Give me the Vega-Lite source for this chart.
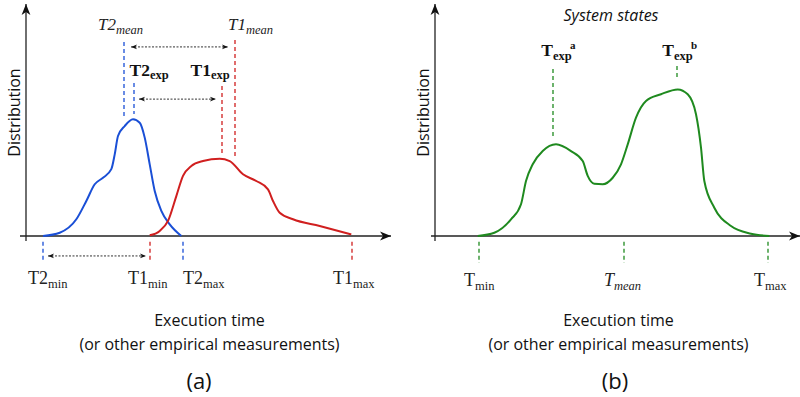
{
  "$schema": "https://vega.github.io/schema/vega-lite/v6.json",
  "padding": {"left": 6, "top": 3, "right": 0, "bottom": 0},
  "spacing": 19,
  "config": {"view": {"stroke": null}},
  "datasets": {
    "axes": [
      {"axis": "x", "t": -1.5, "t2": 91.25, "d": 0, "d2": 0},
      {"axis": "y", "t": 0, "t2": 0, "d": -2.2, "d2": 100}
    ],
    "axesB": [
      {"axis": "x", "t": -1, "t2": 91.25, "d": 0, "d2": 0},
      {"axis": "y", "t": 0, "t2": 0, "d": -2.2, "d2": 100}
    ],
    "curvesA": [
      {"series": "T2", "t": 4.25, "d": 0},
      {"series": "T2", "t": 8.43, "d": 1.4},
      {"series": "T2", "t": 12.58, "d": 7.2},
      {"series": "T2", "t": 15.08, "d": 15.1},
      {"series": "T2", "t": 17.18, "d": 22.3},
      {"series": "T2", "t": 19.25, "d": 25.1},
      {"series": "T2", "t": 21.33, "d": 28.8},
      {"series": "T2", "t": 22.18, "d": 35.2},
      {"series": "T2", "t": 23, "d": 43.1},
      {"series": "T2", "t": 24.68, "d": 47.4},
      {"series": "T2", "t": 26.75, "d": 50.3},
      {"series": "T2", "t": 28.43, "d": 48.8},
      {"series": "T2", "t": 29.68, "d": 42.4},
      {"series": "T2", "t": 30.93, "d": 30.9},
      {"series": "T2", "t": 32.18, "d": 19.4},
      {"series": "T2", "t": 33.83, "d": 10.8},
      {"series": "T2", "t": 35.93, "d": 5},
      {"series": "T2", "t": 38.83, "d": 0},
      {"series": "T1", "t": 30.93, "d": 0.3},
      {"series": "T1", "t": 33.43, "d": 2.2},
      {"series": "T1", "t": 35.5, "d": 6.5},
      {"series": "T1", "t": 37.58, "d": 17.2},
      {"series": "T1", "t": 39.25, "d": 25.9},
      {"series": "T1", "t": 41.33, "d": 30.2},
      {"series": "T1", "t": 44.25, "d": 32.3},
      {"series": "T1", "t": 48.43, "d": 33.3},
      {"series": "T1", "t": 50.93, "d": 32.3},
      {"series": "T1", "t": 54.25, "d": 26.6},
      {"series": "T1", "t": 57.58, "d": 23.7},
      {"series": "T1", "t": 60.5, "d": 20.1},
      {"series": "T1", "t": 61.75, "d": 15.1},
      {"series": "T1", "t": 63.43, "d": 10},
      {"series": "T1", "t": 66.75, "d": 7.2},
      {"series": "T1", "t": 73.43, "d": 4.3},
      {"series": "T1", "t": 81.33, "d": 0.7}
    ],
    "curveB": [
      {"series": "T", "t": 10.68, "d": 0},
      {"series": "T", "t": 14.83, "d": 1.4},
      {"series": "T", "t": 19, "d": 7.2},
      {"series": "T", "t": 21.5, "d": 13.7},
      {"series": "T", "t": 22.75, "d": 23.7},
      {"series": "T", "t": 24.43, "d": 30.9},
      {"series": "T", "t": 26.93, "d": 36.6},
      {"series": "T", "t": 30.25, "d": 39.5},
      {"series": "T", "t": 34, "d": 36.6},
      {"series": "T", "t": 36.93, "d": 32.3},
      {"series": "T", "t": 38.18, "d": 25.9},
      {"series": "T", "t": 39.83, "d": 22.5},
      {"series": "T", "t": 41.93, "d": 22.3},
      {"series": "T", "t": 44.43, "d": 25.1},
      {"series": "T", "t": 46.5, "d": 30.9},
      {"series": "T", "t": 48.18, "d": 39.5},
      {"series": "T", "t": 50.25, "d": 51},
      {"series": "T", "t": 52.75, "d": 58.2},
      {"series": "T", "t": 56.5, "d": 61.1},
      {"series": "T", "t": 60.68, "d": 63.2},
      {"series": "T", "t": 63.18, "d": 61.1},
      {"series": "T", "t": 65.25, "d": 52.5},
      {"series": "T", "t": 66.5, "d": 38.1},
      {"series": "T", "t": 67.33, "d": 23.7},
      {"series": "T", "t": 69.83, "d": 12.2},
      {"series": "T", "t": 74, "d": 4.3},
      {"series": "T", "t": 79, "d": 1},
      {"series": "T", "t": 83.58, "d": 0}
    ],
    "markersA": [
      {"series": "T2", "stat": "mean", "t": 24.5, "d": 83.6, "d2": 51},
      {"series": "T1", "stat": "mean", "t": 52.25, "d": 84.5, "d2": 33.6},
      {"series": "T2", "stat": "exp", "t": 27, "d": 66, "d2": 52.6},
      {"series": "T1", "stat": "exp", "t": 49, "d": 64.7, "d2": 35.8},
      {"series": "T2", "stat": "min", "t": 4.25, "d": -2.5, "d2": -11.5},
      {"series": "T1", "stat": "min", "t": 31, "d": -2.5, "d2": -11.5},
      {"series": "T2", "stat": "max", "t": 39.25, "d": -2.5, "d2": -11.5},
      {"series": "T1", "stat": "max", "t": 81.5, "d": -2.5, "d2": -11.5}
    ],
    "markersB": [
      {"series": "T", "stat": "exp a", "t": 29.5, "d": 72, "d2": 42.2},
      {"series": "T", "stat": "exp b", "t": 60.5, "d": 73.3, "d2": 67.7},
      {"series": "T", "stat": "min", "t": 11, "d": -2.5, "d2": -11.6},
      {"series": "T", "stat": "mean", "t": 47.25, "d": -2.5, "d2": -11.6},
      {"series": "T", "stat": "max", "t": 83.25, "d": -2.5, "d2": -11.6}
    ],
    "spansA": [
      {"between": "means", "t": 26.25, "t2": 50.5, "d": 81.5},
      {"between": "exp", "t": 28.25, "t2": 47.5, "d": 59},
      {"between": "min", "t": 5.5, "t2": 30, "d": -8.6}
    ],
    "labelsA": [
      {"stat": "min", "base": "T2", "sub": "min", "t": 5.5, "d": -20.9},
      {"stat": "min", "base": "T1", "sub": "min", "t": 30.5, "d": -20.9},
      {"stat": "max", "base": "T2", "sub": "max", "t": 44.25, "d": -20.9},
      {"stat": "max", "base": "T1", "sub": "max", "t": 81.75, "d": -20.9},
      {"stat": "mean", "base": "T2", "sub": "mean", "t": 22.5, "d": 88.6},
      {"stat": "mean", "base": "T1", "sub": "mean", "t": 55, "d": 88.6},
      {"stat": "exp", "base": "T2", "sub": "exp", "t": 31, "d": 69},
      {"stat": "exp", "base": "T1", "sub": "exp", "t": 46.25, "d": 69}
    ],
    "labelsB": [
      {"stat": "min", "base": "T", "sub": "min", "sup": "", "t": 10, "d": -21.4},
      {"stat": "mean", "base": "T", "sub": "mean", "sup": "", "t": 44.75, "d": -21.4},
      {"stat": "max", "base": "T", "sub": "max", "sup": "", "t": 82.5, "d": -21.4},
      {"stat": "exp", "base": "T", "sub": "exp", "sup": "a", "t": 29.5, "d": 77.6},
      {"stat": "exp", "base": "T", "sub": "exp", "sup": "b", "t": 59.75, "d": 77.6}
    ],
    "noteB": [
      {"note": "System states", "t": 44, "d": 92.6}
    ]
  },
  "hconcat": [
    {
      "width": 380,
      "height": 290,
      "title": {"text": "(a)", "orient": "bottom", "font": "Open Sans", "fontSize": 22, "fontWeight": "normal", "color": "#111", "offset": 20, "dx": -7},
      "encoding": {
        "x": {"field": "t", "type": "quantitative", "scale": {"domain": [-2.5, 92.5], "nice": false, "zero": false},
          "axis": {"title": ["Execution time", "(or other empirical measurements)"], "domain": false, "ticks": false, "labels": false, "grid": false,
            "titleFont": "Open Sans", "titleFontSize": 16, "titleFontWeight": "normal", "titleColor": "#111", "titleBaseline": "alphabetic", "titleX": 193, "titleY": 31, "titleLineHeight": 24}},
        "y": {"field": "d", "type": "quantitative", "scale": {"domain": [-25, 100], "nice": false, "zero": false},
          "axis": {"title": "Distribution", "domain": false, "ticks": false, "labels": false, "grid": false,
            "titleFont": "Open Sans", "titleFontSize": 16, "titleFontWeight": "normal", "titleColor": "#111", "titleBaseline": "alphabetic", "titleX": 3, "titleY": 108}}
      },
      "layer": [
        {"data": {"name": "axes"}, "mark": {"type": "rule", "color": "#222", "strokeWidth": 1.3},
          "encoding": {"x2": {"field": "t2"}, "y2": {"field": "d2"}}},
        {"data": {"name": "axes"}, "transform": [{"filter": "datum.axis == 'x'"}],
          "mark": {"type": "point", "shape": "M-2,-0.8L0,0L-2,0.8L-1.45,0Z", "filled": true, "size": 121, "color": "#111", "opacity": 1, "strokeWidth": 0},
          "encoding": {"x": {"field": "t2", "type": "quantitative"}}},
        {"data": {"name": "axes"}, "transform": [{"filter": "datum.axis == 'y'"}],
          "mark": {"type": "point", "shape": "M-0.8,2L0,0L0.8,2L0,1.45Z", "filled": true, "size": 121, "color": "#111", "opacity": 1, "strokeWidth": 0},
          "encoding": {"y": {"field": "d2", "type": "quantitative"}}},
        {"data": {"name": "curvesA"}, "mark": {"type": "line", "interpolate": "monotone", "strokeWidth": 2},
          "encoding": {"color": {"field": "series", "type": "nominal", "scale": {"domain": ["T1", "T2", "T"], "range": ["#d01f1f", "#1a4fd6", "#1f8a1f"]}, "legend": null}}},
        {"data": {"name": "markersA"}, "mark": {"type": "rule", "strokeWidth": 1.3, "strokeDash": [4, 3]},
          "encoding": {"y2": {"field": "d2"}, "color": {"field": "series", "type": "nominal", "scale": {"domain": ["T1", "T2", "T"], "range": ["#d01f1f", "#1a4fd6", "#1f8a1f"]}, "legend": null}}},
        {"data": {"name": "spansA"}, "mark": {"type": "rule", "strokeWidth": 1, "strokeDash": [2, 1.5], "color": "#333"},
          "encoding": {"x2": {"field": "t2"}}},
        {"data": {"name": "spansA"},
          "mark": {"type": "point", "shape": "M2,-0.8L0,0L2,0.8L1.45,0Z", "filled": true, "size": 36, "color": "#111", "opacity": 1, "strokeWidth": 0}},
        {"data": {"name": "spansA"},
          "mark": {"type": "point", "shape": "M-2,-0.8L0,0L-2,0.8L-1.45,0Z", "filled": true, "size": 36, "color": "#111", "opacity": 1, "strokeWidth": 0},
          "encoding": {"x": {"field": "t2", "type": "quantitative"}}},
        {"data": {"name": "labelsA"}, "transform": [{"filter": "datum.stat == 'min' || datum.stat == 'max'"}],
          "mark": {"type": "text", "align": "right", "baseline": "alphabetic", "font": "Liberation Serif", "fontSize": 18, "color": "#222"},
          "encoding": {"text": {"field": "base"}}},
        {"data": {"name": "labelsA"}, "transform": [{"filter": "datum.stat == 'min' || datum.stat == 'max'"}],
          "mark": {"type": "text", "align": "left", "baseline": "alphabetic", "font": "Liberation Serif", "fontSize": 12.5, "color": "#222", "dy": 4},
          "encoding": {"text": {"field": "sub"}}},
        {"data": {"name": "labelsA"}, "transform": [{"filter": "datum.stat == 'mean'"}],
          "mark": {"type": "text", "align": "right", "baseline": "alphabetic", "font": "Liberation Serif", "fontStyle": "italic", "fontSize": 17, "color": "#222"},
          "encoding": {"text": {"field": "base"}}},
        {"data": {"name": "labelsA"}, "transform": [{"filter": "datum.stat == 'mean'"}],
          "mark": {"type": "text", "align": "left", "baseline": "alphabetic", "font": "Liberation Serif", "fontStyle": "italic", "fontSize": 12.5, "color": "#222", "dy": 4},
          "encoding": {"text": {"field": "sub"}}},
        {"data": {"name": "labelsA"}, "transform": [{"filter": "datum.stat == 'exp'"}],
          "mark": {"type": "text", "align": "right", "baseline": "alphabetic", "font": "Liberation Serif", "fontWeight": "bold", "fontSize": 17.5, "color": "#111"},
          "encoding": {"text": {"field": "base"}}},
        {"data": {"name": "labelsA"}, "transform": [{"filter": "datum.stat == 'exp'"}],
          "mark": {"type": "text", "align": "left", "baseline": "alphabetic", "font": "Liberation Serif", "fontWeight": "bold", "fontSize": 12.5, "color": "#111", "dy": 3},
          "encoding": {"text": {"field": "sub"}}}
      ]
    },
    {
      "width": 380,
      "height": 290,
      "title": {"text": "(b)", "orient": "bottom", "font": "Open Sans", "fontSize": 22, "fontWeight": "normal", "color": "#111", "offset": 20, "dx": 0},
      "encoding": {
        "x": {"field": "t", "type": "quantitative", "scale": {"domain": [-2.5, 92.5], "nice": false, "zero": false},
          "axis": {"title": ["Execution time", "(or other empirical measurements)"], "domain": false, "ticks": false, "labels": false, "grid": false,
            "titleFont": "Open Sans", "titleFontSize": 16, "titleFontWeight": "normal", "titleColor": "#111", "titleBaseline": "alphabetic", "titleX": 193, "titleY": 31, "titleLineHeight": 24}},
        "y": {"field": "d", "type": "quantitative", "scale": {"domain": [-25, 100], "nice": false, "zero": false},
          "axis": {"title": "Distribution", "domain": false, "ticks": false, "labels": false, "grid": false,
            "titleFont": "Open Sans", "titleFontSize": 16, "titleFontWeight": "normal", "titleColor": "#111", "titleBaseline": "alphabetic", "titleX": 3, "titleY": 108}}
      },
      "layer": [
        {"data": {"name": "axesB"}, "mark": {"type": "rule", "color": "#222", "strokeWidth": 1.3},
          "encoding": {"x2": {"field": "t2"}, "y2": {"field": "d2"}}},
        {"data": {"name": "axesB"}, "transform": [{"filter": "datum.axis == 'x'"}],
          "mark": {"type": "point", "shape": "M-2,-0.8L0,0L-2,0.8L-1.45,0Z", "filled": true, "size": 121, "color": "#111", "opacity": 1, "strokeWidth": 0},
          "encoding": {"x": {"field": "t2", "type": "quantitative"}}},
        {"data": {"name": "axesB"}, "transform": [{"filter": "datum.axis == 'y'"}],
          "mark": {"type": "point", "shape": "M-0.8,2L0,0L0.8,2L0,1.45Z", "filled": true, "size": 121, "color": "#111", "opacity": 1, "strokeWidth": 0},
          "encoding": {"y": {"field": "d2", "type": "quantitative"}}},
        {"data": {"name": "curveB"}, "mark": {"type": "line", "interpolate": "monotone", "strokeWidth": 2},
          "encoding": {"color": {"field": "series", "type": "nominal", "scale": {"domain": ["T1", "T2", "T"], "range": ["#d01f1f", "#1a4fd6", "#1f8a1f"]}, "legend": null}}},
        {"data": {"name": "markersB"}, "mark": {"type": "rule", "strokeWidth": 1.3, "strokeDash": [4, 3]},
          "encoding": {"y2": {"field": "d2"}, "color": {"field": "series", "type": "nominal", "scale": {"domain": ["T1", "T2", "T"], "range": ["#d01f1f", "#1a4fd6", "#1f8a1f"]}, "legend": null}}},
        {"data": {"name": "noteB"},
          "mark": {"type": "text", "align": "center", "baseline": "alphabetic", "font": "Open Sans", "fontStyle": "italic", "fontSize": 16, "color": "#111"},
          "encoding": {"text": {"field": "note"}}},
        {"data": {"name": "labelsB"}, "transform": [{"filter": "datum.stat == 'min' || datum.stat == 'max'"}],
          "mark": {"type": "text", "align": "right", "baseline": "alphabetic", "font": "Liberation Serif", "fontSize": 18, "color": "#222"},
          "encoding": {"text": {"field": "base"}}},
        {"data": {"name": "labelsB"}, "transform": [{"filter": "datum.stat == 'min' || datum.stat == 'max'"}],
          "mark": {"type": "text", "align": "left", "baseline": "alphabetic", "font": "Liberation Serif", "fontSize": 12.5, "color": "#222", "dy": 4},
          "encoding": {"text": {"field": "sub"}}},
        {"data": {"name": "labelsB"}, "transform": [{"filter": "datum.stat == 'mean'"}],
          "mark": {"type": "text", "align": "right", "baseline": "alphabetic", "font": "Liberation Serif", "fontStyle": "italic", "fontSize": 18, "color": "#222"},
          "encoding": {"text": {"field": "base"}}},
        {"data": {"name": "labelsB"}, "transform": [{"filter": "datum.stat == 'mean'"}],
          "mark": {"type": "text", "align": "left", "baseline": "alphabetic", "font": "Liberation Serif", "fontStyle": "italic", "fontSize": 12.5, "color": "#222", "dy": 4},
          "encoding": {"text": {"field": "sub"}}},
        {"data": {"name": "labelsB"}, "transform": [{"filter": "datum.stat == 'exp'"}],
          "mark": {"type": "text", "align": "right", "baseline": "alphabetic", "font": "Liberation Serif", "fontWeight": "bold", "fontSize": 17.5, "color": "#111"},
          "encoding": {"text": {"field": "base"}}},
        {"data": {"name": "labelsB"}, "transform": [{"filter": "datum.stat == 'exp'"}],
          "mark": {"type": "text", "align": "left", "baseline": "alphabetic", "font": "Liberation Serif", "fontWeight": "bold", "fontSize": 12.5, "color": "#111", "dy": 4},
          "encoding": {"text": {"field": "sub"}}},
        {"data": {"name": "labelsB"}, "transform": [{"filter": "datum.stat == 'exp'"}],
          "mark": {"type": "text", "align": "left", "baseline": "alphabetic", "font": "Liberation Serif", "fontWeight": "bold", "fontSize": 11, "color": "#111", "dx": 17, "dy": -7},
          "encoding": {"text": {"field": "sup"}}}
      ]
    }
  ]
}
